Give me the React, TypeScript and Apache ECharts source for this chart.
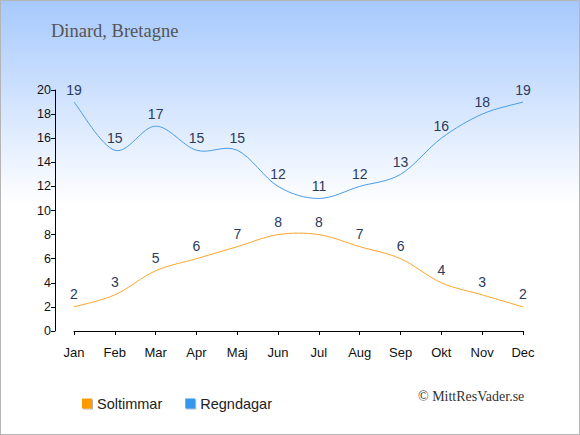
import React, { useEffect, useRef } from "react";
import * as echarts from "echarts";

const months = ["Jan", "Feb", "Mar", "Apr", "Maj", "Jun", "Jul", "Aug", "Sep", "Okt", "Nov", "Dec"];
const soltimmar = [2, 3, 5, 6, 7, 8, 8, 7, 6, 4, 3, 2];
const regndagar = [19, 15, 17, 15, 15, 12, 11, 12, 13, 16, 18, 19];
const seriesNames = ["Soltimmar", "Regndagar"];
const title = "Dinard, Bretagne";
const credit = "© MittResVader.se";

const FONT_SANS = "Liberation Sans, Arial, sans-serif";
const FONT_SERIF = "Liberation Serif, Times New Roman, serif";

function splineSeries(values: number[], color: string) {
  const n = values.length;
  return {
    type: "custom",
    silent: true,
    z: 3,
    data: values.slice(0, n - 1).map((v, i) => [i, v]),
    renderItem: (params: any, api: any) => {
      const i = params.dataIndex;
      const idx = (k: number) => Math.max(0, Math.min(n - 1, k));
      const p0 = api.coord([idx(i - 1), values[idx(i - 1)]]);
      const p1 = api.coord([i, values[i]]);
      const p2 = api.coord([i + 1, values[i + 1]]);
      const p3 = api.coord([idx(i + 2), values[idx(i + 2)]]);
      return {
        type: "bezierCurve",
        shape: {
          x1: p1[0],
          y1: p1[1],
          x2: p2[0],
          y2: p2[1],
          cpx1: p1[0] + (p2[0] - p0[0]) / 6,
          cpy1: p1[1] + (p2[1] - p0[1]) / 6,
          cpx2: p2[0] - (p3[0] - p1[0]) / 6,
          cpy2: p2[1] - (p3[1] - p1[1]) / 6,
        },
        style: { stroke: color, lineWidth: 1, fill: "none" },
      };
    },
  };
}

export default function App() {
  const ref = useRef<HTMLDivElement>(null);
  useEffect(() => {
    document.body.style.margin = "0";
    const chart = echarts.init(ref.current!, null, { renderer: "svg" });
    const labelStyle = {
      show: true,
      position: "top" as const,
      distance: 5,
      color: "#2a3b5c",
      fontSize: 14,
      fontFamily: FONT_SANS,
    };
    const labelLine = (name: string, values: number[]) => ({
      name,
      type: "line",
      data: values,
      showSymbol: true,
      symbol: "circle",
      symbolSize: 1,
      itemStyle: { color: "rgba(0,0,0,0)" },
      lineStyle: { width: 0, opacity: 0 },
      label: labelStyle,
      silent: true,
      z: 4,
    });
    chart.setOption({
      animation: false,
      backgroundColor: "transparent",
      grid: { left: 74, right: 57, top: 90, bottom: 104 },
      xAxis: {
        type: "category",
        data: months,
        boundaryGap: false,
        offset: 10,
        axisLine: { lineStyle: { color: "#000", width: 1 } },
        axisTick: { alignWithLabel: true, length: 4, lineStyle: { color: "#000" } },
        axisLabel: { color: "#111", fontSize: 13, margin: 5, fontFamily: FONT_SANS },
        splitLine: { show: false },
      },
      yAxis: {
        type: "value",
        min: 0,
        max: 20,
        interval: 2,
        offset: 19,
        axisLine: { show: true, lineStyle: { color: "#000", width: 1 } },
        axisTick: { show: true, length: 4, lineStyle: { color: "#000" } },
        axisLabel: { color: "#111", fontSize: 12.5, margin: 4, fontFamily: FONT_SANS },
        splitLine: { show: false },
      },
      legend: {
        left: 77,
        top: 391,
        itemWidth: 10,
        itemHeight: 10,
        itemGap: 23,
        icon: "rect",
        textStyle: { color: "#222", fontSize: 14.5, fontFamily: FONT_SANS },
        data: [
          { name: seriesNames[0], itemStyle: { color: "#ff9a00", opacity: 1, shadowColor: "rgba(0,0,0,0.3)", shadowOffsetX: 1, shadowOffsetY: 1, shadowBlur: 1 } },
          { name: seriesNames[1], itemStyle: { color: "#3497ec", opacity: 1, shadowColor: "rgba(0,0,0,0.3)", shadowOffsetX: 1, shadowOffsetY: 1, shadowBlur: 1 } },
        ],
      },
      graphic: [
        {
          type: "text",
          left: 51,
          top: 21,
          style: { text: title, fill: "#555", fontSize: 18.5, fontFamily: FONT_SERIF },
        },
        {
          type: "text",
          left: 418,
          top: 389,
          style: { text: credit, fill: "#333", fontSize: 14, fontFamily: FONT_SERIF },
        },
      ],
      series: [
        splineSeries(soltimmar, "#ffa42a"),
        splineSeries(regndagar, "#4a9de9"),
        labelLine(seriesNames[0], soltimmar),
        labelLine(seriesNames[1], regndagar),
      ],
    });
    return () => chart.dispose();
  }, []);
  return (
    <div
      style={{
        position: "absolute",
        left: 0,
        top: 0,
        width: 580,
        height: 435,
        boxSizing: "border-box",
        border: "1px solid #b5b5b5",
        background: "linear-gradient(to bottom, #a6c9fd 0%, #ffffff 47%, #ffffff 100%)",
      }}
    >
      <div ref={ref} style={{ position: "absolute", left: -1, top: -1, width: 580, height: 435 }} />
    </div>
  );
}
